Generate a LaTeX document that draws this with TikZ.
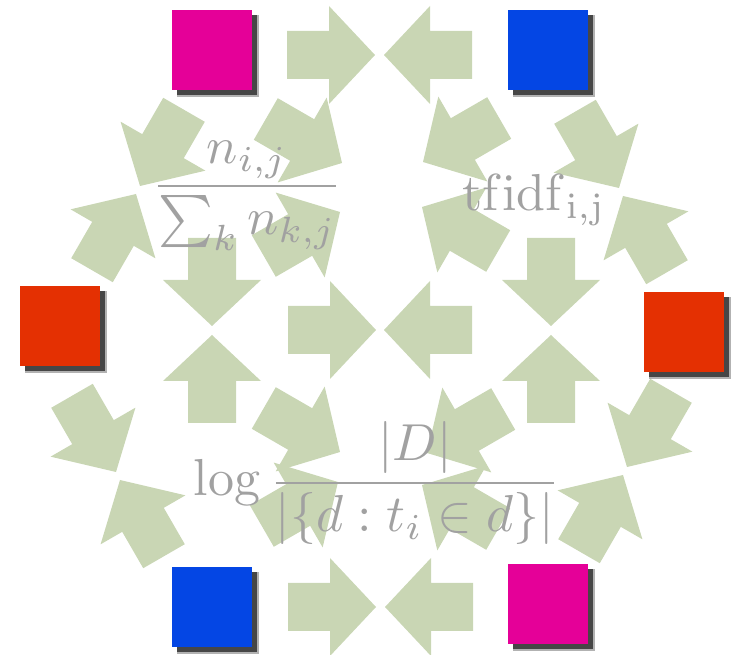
\documentclass[tikz,border=0pt]{standalone}
\usepackage{amsmath}
\usepackage{tikz}
\usetikzlibrary{shadows}
\definecolor{verdeflecha}{RGB}{201,214,180}
\definecolor{rosa}{RGB}{229,0,152}
\definecolor{azul}{RGB}{4,70,228}
\definecolor{rojo}{RGB}{228,48,2}
\tikzset{
  flecha/.style={fill=verdeflecha},
  cuadro/.style={rectangle, minimum size=2cm, inner sep=0pt,
    general shadow={shadow xshift=0.15cm, shadow yshift=-0.15cm, shadow scale=1.03, fill=black, opacity=0.3},
    drop shadow={shadow xshift=0.13cm, shadow yshift=-0.13cm, fill=black!80, opacity=0.85}},
  formula/.style={text=black!37, font=\normalsize, scale=3.7, inner sep=0pt}
}

\begin{document}
\begin{tikzpicture}[x=0.025cm, y=-0.025cm]
    \useasboundingbox (0,0) rectangle (732,655);

    % Flechas (punta x / punta y / angulo)
    \foreach \x/\y/\a in {
        375/55/0, 384/55/180,
        140/186/240, 136/194/60,
        619/188/300, 623/196/120,
        116/472/300, 120/480/120,
        627/467/240, 623/475/60,
        376/607/0, 385/607/180,
        376/330/0, 384/330/180,
        212/326/270, 212/335/90,
        551/326/270, 551/335/90,
        342/163/-30, 340/212/30, 423/162/210, 422/207/150,
        340/452/-30, 338/482/30, 427/453/210, 422/485/150
    } {
        \fill[flecha, shift={(\x,\y)}, rotate=\a]
            (0,0) -- (-46,49) -- (-46,24) -- (-88,24) -- (-88,-24) -- (-46,-24) -- (-46,-49) -- cycle;
    }

    % Cuadros de colores
    \node[cuadro, fill=rosa] (rosasup) at (212,50) {};
    \node[cuadro, fill=azul] (azulsup) at (548,50) {};
    \node[cuadro, fill=rojo] (rojoizq) at (60,326) {};
    \node[cuadro, fill=rojo] (rojoder) at (684,332) {};
    \node[cuadro, fill=azul] (azulinf) at (212,607) {};
    \node[cuadro, fill=rosa] (rosainf) at (548,604) {};

    % Formulas
    \node[formula] (frec) at (247,196) {$\displaystyle\frac{n_{i,j}}{\sum_k n_{k,j}}$};
    \node[formula] (tfidf) at (534,200) {$\mathrm{tf}\mathrm{idf}_{\mathrm{i,j}}$};
    \node[formula] (idf) at (377,483) {$\displaystyle\log\frac{|D|}{|\{d : t_i \in d\}|}$};

\end{tikzpicture}
\end{document}
